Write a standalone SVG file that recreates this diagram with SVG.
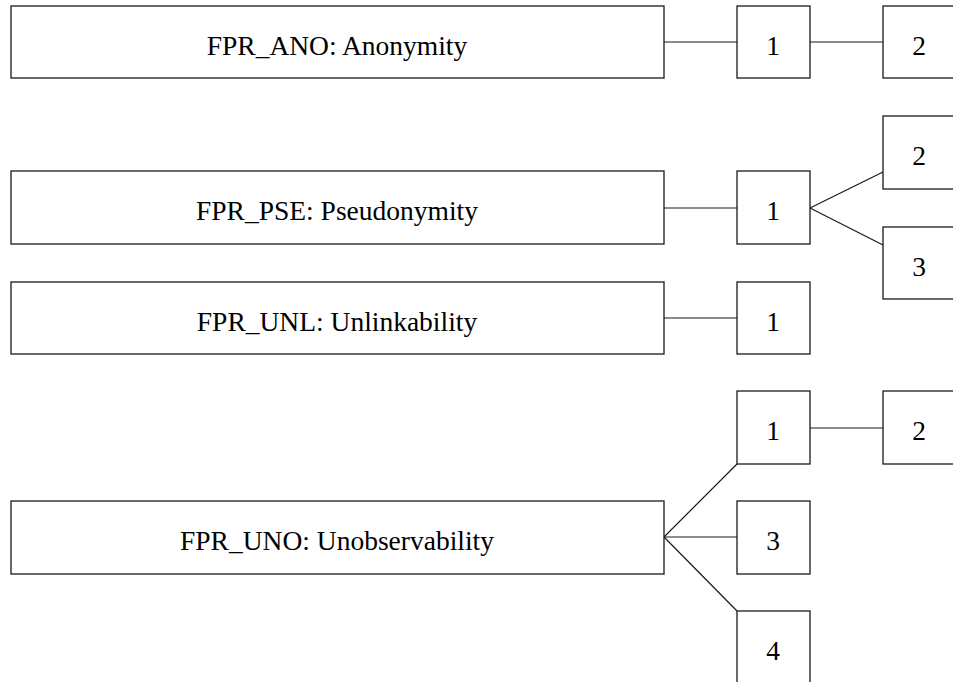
<svg xmlns="http://www.w3.org/2000/svg" width="953" height="682" viewBox="0 0 953 682">
<defs>
<style>
rect{fill:#fff;stroke:#1a1a1a;stroke-width:1.3}
.c line{stroke:#1a1a1a;stroke-width:1.2}
</style>
</defs>
<rect x="0" y="0" width="953" height="682" style="fill:#fff;stroke:none"/>
<g class="c" id="connectors">
<line x1="664" y1="42" x2="737" y2="42"/>
<line x1="810" y1="42" x2="883" y2="42"/>
<line x1="664" y1="208" x2="737" y2="208"/>
<line x1="810" y1="208" x2="883" y2="172"/>
<line x1="810" y1="208" x2="883" y2="245"/>
<line x1="664" y1="318" x2="737" y2="318"/>
<line x1="810" y1="428" x2="883" y2="428"/>
<line x1="664" y1="537" x2="737" y2="464"/>
<line x1="664" y1="537" x2="737" y2="537"/>
<line x1="664" y1="537" x2="737" y2="611"/>
</g>
<g id="ano"><rect x="11" y="6" width="653" height="72"/></g>
<g id="ano1"><rect x="737" y="6" width="73" height="72"/></g>
<g id="ano2"><rect x="883" y="6" width="73" height="72"/></g>
<g id="pse"><rect x="11" y="171" width="653" height="73"/></g>
<g id="pse1"><rect x="737" y="171" width="73" height="73"/></g>
<g id="pse2"><rect x="883" y="116" width="73" height="73"/></g>
<g id="pse3"><rect x="883" y="227" width="73" height="72"/></g>
<g id="unl"><rect x="11" y="282" width="653" height="72"/></g>
<g id="unl1"><rect x="737" y="282" width="73" height="72"/></g>
<g id="uno"><rect x="11" y="501" width="653" height="73"/></g>
<g id="uno1"><rect x="737" y="391" width="73" height="73"/></g>
<g id="uno2"><rect x="883" y="391" width="73" height="73"/></g>
<g id="uno3"><rect x="737" y="501" width="73" height="73"/></g>
<g id="uno4"><rect x="737" y="611" width="73" height="73"/></g>
<g id="labels" font-family="Liberation Serif" font-size="27.5" text-anchor="middle" fill="#000">
<text x="337" y="55">FPR_ANO: Anonymity</text>
<text x="773" y="55">1</text>
<text x="919" y="55">2</text>
<text x="337" y="220">FPR_PSE: Pseudonymity</text>
<text x="773" y="220">1</text>
<text x="919" y="165">2</text>
<text x="919" y="276">3</text>
<text x="337" y="331">FPR_UNL: Unlinkability</text>
<text x="773" y="331">1</text>
<text x="337" y="550">FPR_UNO: Unobservability</text>
<text x="773" y="440">1</text>
<text x="919" y="440">2</text>
<text x="773" y="550">3</text>
<text x="773" y="660">4</text>
</g>
</svg>
